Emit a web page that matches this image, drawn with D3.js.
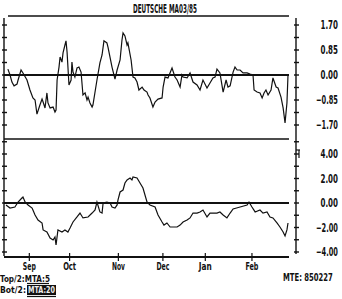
<!DOCTYPE html>
<html>
<head>
<meta charset="utf-8">
<script src="https://cdn.jsdelivr.net/npm/d3@7"></script>
<style>
  body { margin: 0; background: #fff; }
  text { font-family: "DejaVu Sans Condensed", "DejaVu Sans", sans-serif; font-weight: bold; fill: #111; }
</style>
</head>
<body>
<script>
const width = 342;
const height = 299;

// trading day index (0 = mid Aug 1984, 133 = 27 Feb 1985), value
const topSeries = [
  [0.9, 0.2], [1.9, 0], [2.8, -0.24], [3.8, -0.37], [5.2, -0.31], [5.7, -0.17], [7.1, 0.17], [8, 0.07],
  [9.9, -0.17], [11.3, -0.51], [12.7, -0.78], [13.7, -0.85], [14.6, -1.33], [16, -1.02], [17, -0.82],
  [17.5, -0.92], [18.4, -1.12], [19.3, -0.61], [19.8, -0.95], [20.8, -1.12], [22.2, -1.09], [23.1, -1.26],
  [23.6, -1.19], [24.1, -0.17], [25, 0.27], [25.5, 0.61], [26.4, 0.44], [26.9, 0.75], [27.8, 1.02],
  [28.3, 1.16], [28.8, 0.78], [29.7, -0.34], [30.7, -0.17], [31.1, 0.44], [31.6, 0.1], [32.5, -0.07],
  [33.5, 0.24], [34.4, 0.27], [35.4, 0.1], [36.3, -0.68], [37.3, -0.61], [38.2, -0.85], [38.7, -0.75],
  [39.6, -0.95], [40.6, -1.09], [41, -1.02], [42.9, -0.17], [44.3, 0.41], [45.3, 0.68], [46.2, 1.16],
  [47.6, 1.09], [48.1, 0.95], [50, 0.27], [51.4, -0.14], [52.4, 0.17], [53.8, 0.51], [54.7, 1.19],
  [55.2, 1.43], [56.1, 1.33], [57.1, 1.02], [57.5, 1.09], [59, 0.51], [59.9, -0.07], [60.8, -0.1],
  [61.8, -0.24], [62.7, -0.51], [64.2, -0.41], [65.1, -0.51], [66.5, -0.58], [67, -0.68], [67.9, -0.78],
  [69.3, -1.09], [70.3, -0.92], [71.7, -0.82], [73.6, -0.78], [74.1, -0.41], [75, -0.07], [76.4, -0.1],
  [78.3, 0.24], [79.7, -0.07], [80.7, -0.17], [82.1, -0.41], [83, 0], [83.5, -0.07], [85.4, -0.1],
  [86.8, 0.07], [88.2, -0.24], [90.1, -0.34], [91.5, -0.51], [92.9, -0.17], [94.8, -0.44], [96.2, -0.27],
  [97.6, -0.1], [98.6, -0.07], [99.5, 0.2], [100.9, 0.07], [102.4, -0.58], [103.8, -0.17], [104.7, -0.41],
  [105.7, -0.37], [107.1, 0.1], [108, 0.27], [109, 0.17], [110.4, 0.17], [111.8, 0.07], [113.7, 0.07],
  [115.1, 0.03], [116.5, 0], [117, -0.51], [118.4, -0.58], [119.8, -0.61], [120.8, -0.78], [121.7, -0.61],
  [122.6, -0.51], [123.6, -0.68], [125, -0.51], [125.9, -0.1], [127.4, -0.41], [128.3, -0.44],
  [129.7, -0.75], [130.7, -1.12], [131.6, -1.63], [132.5, -0.95], [133, 0]
];

const botSeries = [
  [0, -0.16], [1.9, -0.41], [4.2, -0.33], [5.7, 0.08], [7.5, 0.41], [8, 0.49], [9, 0.08], [10.4, -0.16],
  [12.3, -0.41], [12.7, -0.57], [13.7, -0.98], [15.1, -1.39], [17, -1.63], [17.5, -2.2], [19.3, -2.37],
  [20.8, -2.86], [22.2, -3.02], [23.1, -2.78], [23.6, -3.43], [24.5, -2.2], [26.4, -2.37], [27.8, -2.2],
  [29.2, -2.37], [30.2, -2.04], [31.6, -1.55], [33.5, -1.14], [34.9, -0.82], [36.3, -1.22], [38.7, -1.14],
  [40.6, -0.82], [42, -0.57], [42.9, 0.08], [44.3, -0.73], [45.3, -0.82], [45.8, 0], [47.6, 0.08],
  [49.1, 0], [50, -0.33], [51.4, -0.41], [52.4, -0.16], [52.8, 0.24], [53.8, 0.9], [55.2, 1.06],
  [56.1, 1.63], [57.1, 1.88], [58.5, 2.04], [59.4, 1.88], [59.9, 2.12], [61.8, 2.04], [63.2, 1.63],
  [64.6, 1.22], [66.5, 0.08], [67.9, -0.16], [70.3, -0.33], [71.7, -0.98], [73.6, -1.55], [74.5, -1.8],
  [75.9, -1.63], [77.4, -1.96], [80.7, -1.96], [82.1, -1.8], [83.5, -1.55], [85.4, -1.39], [86.8, -1.22],
  [88.2, -0.82], [90.1, -0.82], [91.5, -0.73], [92.9, -0.57], [94.8, -1.14], [96.2, -0.82], [99.5, -0.82],
  [100.9, -0.73], [102.4, -0.98], [104.2, -1.22], [105.7, -0.82], [107.1, -0.49], [110.4, -0.33],
  [113.7, -0.16], [114.6, 0.08], [116, -0.33], [117.5, -0.73], [119.8, -0.57], [121.2, -0.82],
  [123.1, -0.73], [124.5, -1.14], [125.9, -1.22], [127.8, -1.63], [129.2, -1.96], [130.7, -2.37],
  [131.6, -2.69], [132.5, -2.2], [133, -1.63]
];

const months = ['Sep', 'Oct', 'Nov', 'Dec', 'Jan', 'Feb'];
const monthDays = [11, 30, 53, 74, 94, 116];

const topTicks = [-1.7, -1.275, -0.85, -0.425, 0, 0.425, 0.85, 1.275, 1.7];
const topLabels = [1.7, 0.85, 0, -0.85, -1.7];
const botTicks = [-4, -3, -2, -1, 0, 1, 2, 3, 4, 5];
const botLabels = [4, 2, 0, -2, -4];

const svg = d3.select('body').append('svg').attr('width', width).attr('height', height);

const x = d3.scaleLinear().domain([0, 133]).range([6, 288]);
const yTop = d3.scaleLinear().domain([-1.7, 1.7]).range([125, 25]);
const yBot = d3.scaleLinear().domain([-4, 4]).range([252, 154]);

function hline(y, x1, x2, w) {
  svg.append('line').attr('x1', x1).attr('x2', x2).attr('y1', y).attr('y2', y)
    .attr('stroke', '#111').attr('stroke-width', w);
}
function vline(xp, y1, y2, w) {
  svg.append('line').attr('x1', xp).attr('x2', xp).attr('y1', y1).attr('y2', y2)
    .attr('stroke', '#111').attr('stroke-width', w);
}
// squeeze text horizontally to a target width (the old printer font is very narrow)
function label(xp, yp, str, size, w, anchor) {
  const t = svg.append('text').attr('font-size', size).attr('text-anchor', anchor || 'start').text(str);
  const n = t.node().getComputedTextLength();
  t.attr('transform', `translate(${xp},${yp}) scale(${w / n},1)`);
  return t;
}

// frame lines
hline(16, 8, 289, 1.4);
hline(yTop(0), 4, 289, 2);
hline(139, 4, 289, 1.4);
hline(yBot(0), 4, 289, 2);
hline(257, 4, 289, 2);

// left and right axis
vline(4, 18, 256, 1.4);
vline(296, 18, 254, 1.4);
hline(150, 296, 300, 1.2);
vline(299, 150, 158, 1.2);

topTicks.forEach((t) => {
  hline(yTop(t), 2, 7, 1.4);
  hline(yTop(t), 294, 299, 1.4);
});
botTicks.forEach((t) => {
  hline(yBot(t), 2, 7, 1.4);
  hline(yBot(t), 294, 299, 1.4);
});

// month ticks and labels
monthDays.forEach((d, i) => {
  vline(x(d), 253, 261, 1.2);
  label(x(d), 270, months[i], 10, 13, 'middle');
});

// value labels
const fmt = d3.format('.2f');
topLabels.forEach((v) => {
  const s = fmt(v);
  label(338, yTop(v) + 4, s, 12, s.length * 4.4, 'end');
});
botLabels.forEach((v) => {
  const s = fmt(v);
  label(338, yBot(v) + 4, s, 12, s.length * 4.4, 'end');
});

// series
const lineTop = d3.line().x((d) => x(d[0])).y((d) => yTop(d[1]));
const lineBot = d3.line().x((d) => x(d[0])).y((d) => yBot(d[1]));

svg.append('path').datum(topSeries).attr('d', lineTop)
  .attr('fill', 'none').attr('stroke', '#111').attr('stroke-width', 1.2);
svg.append('path').datum(botSeries).attr('d', lineBot)
  .attr('fill', 'none').attr('stroke', '#111').attr('stroke-width', 1.2);

// title and notes
label(133, 13, 'DEUTSCHE MA03/85', 12, 64);
label(283, 281, 'MTE: 850227', 10, 50);

label(0, 282, 'Top/2:MTA:5', 9, 50);
hline(283.5, 27, 49, 1.2);

svg.append('rect').attr('x', 27).attr('y', 285).attr('width', 29).attr('height', 10).attr('fill', '#111');
label(0, 293, 'Bot/2:', 9, 26);
label(28, 293, 'MTA:20', 9, 27).style('fill', '#eee');
hline(296.5, 27, 56, 1.2);
</script>
</body>
</html>
